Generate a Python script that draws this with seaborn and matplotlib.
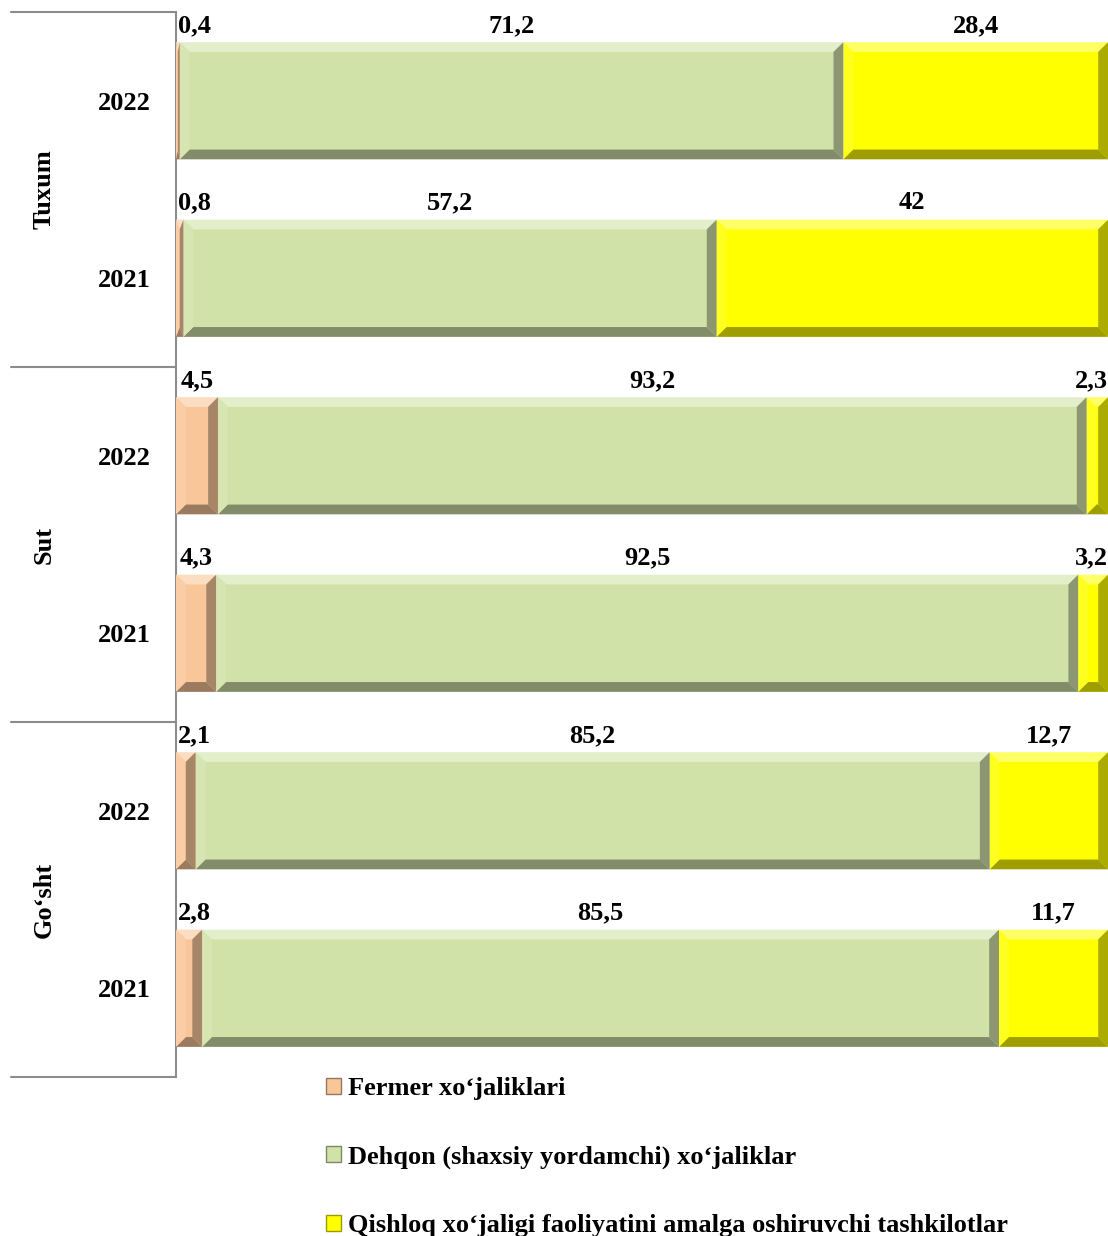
import numpy as np
import pandas as pd
import matplotlib.pyplot as plt
import seaborn as sns
from matplotlib.patches import Polygon, Patch
from matplotlib.colors import to_rgb

# ---------------------------
# DATA
# ---------------------------
groups = ["Tuxum", "Tuxum", "Sut", "Sut", "Go‘sht", "Go‘sht"]
years = ["2022", "2021", "2022", "2021", "2022", "2021"]
fermer = [0.4, 0.8, 4.5, 4.3, 2.1, 2.8]
dehqon = [71.2, 57.2, 93.2, 92.5, 85.2, 85.5]
tashkilot = [28.4, 42.0, 2.3, 3.2, 12.7, 11.7]

series_names = [
    "Fermer xo‘jaliklari",
    "Dehqon (shaxsiy yordamchi) xo‘jaliklar",
    "Qishloq xo‘jaligi faoliyatini amalga oshiruvchi tashkilotlar",
]
colors = ["#F9C69A", "#D1E2A8", "#FFFF00"]

df = pd.DataFrame({"group": groups, "year": years,
                   "fermer": fermer, "dehqon": dehqon, "tashkilot": tashkilot})
df["row"] = df["group"] + " " + df["year"]
df["c1"] = df["fermer"]
df["c2"] = df["fermer"] + df["dehqon"]
df["c3"] = df["c2"] + df["tashkilot"]

sns.set_style("white")
plt.rcParams["font.family"] = ["Liberation Serif", "DejaVu Serif"]
plt.rcParams["font.weight"] = "bold"
plt.rcParams["text.color"] = "black"
plt.rcParams["ytick.color"] = "black"
plt.rcParams["ytick.labelcolor"] = "black"
FS = 19

fig = plt.figure(figsize=(11.08, 12.36), dpi=100)
ax = fig.add_axes([176 / 1108, 1 - 1077 / 1236, 932 / 1108, 1065 / 1236])

# stacked bars by drawing cumulative totals from largest to smallest
for col, c in [("c3", colors[2]), ("c2", colors[1]), ("c1", colors[0])]:
    sns.barplot(data=df, x=col, y="row", orient="h", color=c, saturation=1,
                width=0.66, errorbar=None, ax=ax)


def mix(c, other, t):
    c = np.array(to_rgb(c))
    return tuple(c * (1 - t) + np.array(other) * t)


def bevel(ax, x0, w, y0, h, color):
    x1, y1 = x0 + w, y0 + h
    dx = min(1.05, w / 2)
    dy = 0.055
    parts = [
        ([(x0, y0), (x1, y0), (x1 - dx, y0 + dy), (x0 + dx, y0 + dy)], mix(color, (1, 1, 1), 0.4)),
        ([(x0, y1), (x1, y1), (x1 - dx, y1 - dy), (x0 + dx, y1 - dy)], mix(color, (0, 0, 0), 0.38)),
        ([(x0, y0), (x0 + dx, y0 + dy), (x0 + dx, y1 - dy), (x0, y1)], mix(color, (1, 1, 1), 0.12)),
        ([(x1, y0), (x1 - dx, y0 + dy), (x1 - dx, y1 - dy), (x1, y1)], mix(color, (0, 0, 0), 0.33)),
    ]
    for pts, fc in parts:
        ax.add_patch(Polygon(pts, closed=True, facecolor=fc, edgecolor="none", zorder=3))


# containers: 0 -> yellow, 1 -> green, 2 -> peach
seg_start = {0: df["c2"].values, 1: df["c1"].values, 2: np.zeros(len(df))}
seg_width = {0: df["tashkilot"].values, 1: df["dehqon"].values, 2: df["fermer"].values}
seg_color = {0: colors[2], 1: colors[1], 2: colors[0]}
for k, cont in enumerate(ax.containers):
    for i, p in enumerate(cont.patches):
        p.set_x(seg_start[k][i])
        p.set_width(seg_width[k][i])
        p.set_zorder(2)
        bevel(ax, seg_start[k][i], seg_width[k][i], p.get_y(), p.get_height(), seg_color[k])

# value labels above each segment
for k in range(3):
    for i, p in enumerate(ax.containers[k].patches):
        v = seg_width[k][i]
        xc = np.clip(seg_start[k][i] + v / 2, 2.0, 98.2)
        txt = f"{v:g}".replace(".", ",")
        ax.text(xc, p.get_y() - 0.03, txt, ha="center", va="bottom",
                fontsize=FS, fontweight="bold", color="black")

ax.set_xlim(0, 100)
ax.set_ylim(5.5, -0.5)
ax.set_xticks([])
ax.set_xlabel("")
ax.set_ylabel("")
ax.set_yticks(range(len(df)))
ax.set_yticklabels(years, fontsize=FS, fontweight="bold", color="black")
ax.tick_params(axis="y", length=0, pad=18)

for s in ["top", "right", "bottom"]:
    ax.spines[s].set_visible(False)
ax.spines["left"].set_color("#8C8C8C")
ax.spines["left"].set_linewidth(1.5)

# group separators and group labels
tr = ax.get_yaxis_transform()
for yb in [-0.5, 1.5, 3.5, 5.5]:
    ax.plot([-165 / 932, 0], [yb, yb], color="#8C8C8C", lw=1.5,
            transform=tr, clip_on=False)
group_names = ["Tuxum", "Sut", "Go‘sht"]
for j, g in enumerate(group_names):
    ax.text(-132 / 932, 2 * j + 0.5, g, rotation=90, ha="center", va="center",
            fontsize=FS, fontweight="bold", color="black", transform=tr)

handles = [Patch(facecolor=c, edgecolor=mix(c, (0, 0, 0), 0.4), linewidth=1) for c in colors]
leg = fig.legend(handles, series_names, loc="upper left", bbox_to_anchor=(326 / 1108, 1 - 1077 / 1236),
                 frameon=False, prop={"weight": "bold", "size": FS},
                 handlelength=0.55, handleheight=0.55, handletextpad=0.3,
                 labelspacing=1.72, borderpad=0, borderaxespad=0)
for t in leg.get_texts():
    t.set_color("black")

fig.savefig("out.png", dpi=100)
